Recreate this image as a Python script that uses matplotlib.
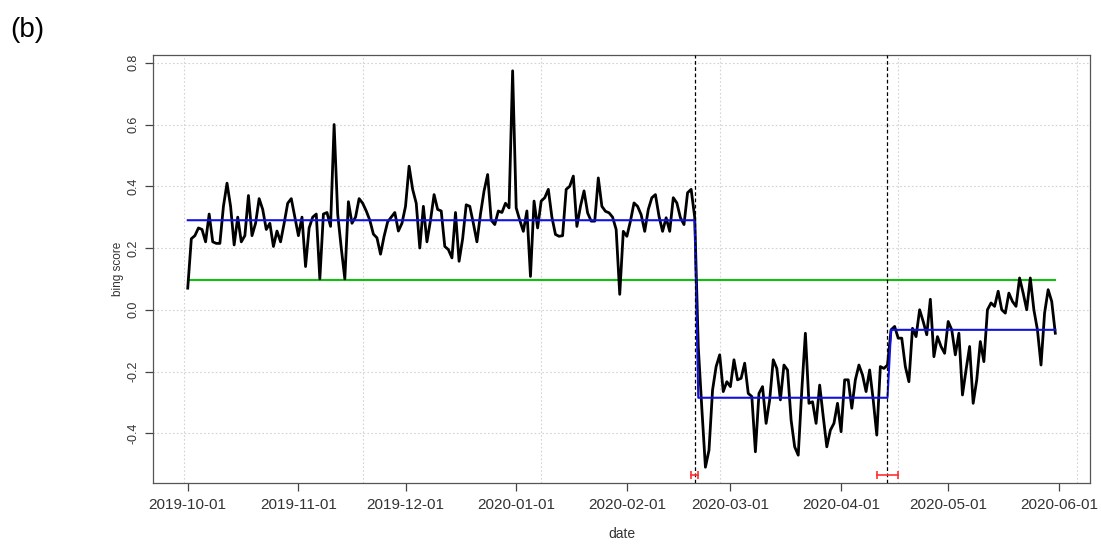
import matplotlib
matplotlib.use("Agg")
import matplotlib.pyplot as plt
import matplotlib.dates as mdates
import numpy as np
import pandas as pd

plt.rcParams['font.family'] = ['Liberation Sans', 'DejaVu Sans']

# daily bing score, 2019-10-01 .. 2020-05-31
start_date = "2019-10-01"
bing_score = [
    0.07, 0.23, 0.24, 0.265, 0.26, 0.22, 0.31, 0.22, 0.215, 0.215,
    0.335, 0.41, 0.335, 0.21, 0.30, 0.22, 0.24, 0.37, 0.24, 0.28,
    0.36, 0.325, 0.26, 0.28, 0.205, 0.255, 0.22, 0.28, 0.345, 0.36,
    0.30, 0.24, 0.30, 0.14, 0.265, 0.30, 0.31, 0.10, 0.31, 0.315,
    0.27, 0.60, 0.31, 0.20, 0.10, 0.35, 0.28, 0.30, 0.36, 0.345,
    0.32, 0.29, 0.245, 0.233, 0.18, 0.238, 0.285, 0.30, 0.315, 0.255,
    0.28, 0.335, 0.465, 0.39, 0.345, 0.20, 0.335, 0.22, 0.29, 0.373,
    0.325, 0.32, 0.205, 0.195, 0.168, 0.315, 0.157, 0.23, 0.34, 0.335,
    0.28, 0.22, 0.31, 0.385, 0.438, 0.29, 0.276, 0.32, 0.315, 0.345,
    0.33, 0.774, 0.33, 0.29, 0.254, 0.32, 0.108, 0.352, 0.265, 0.352,
    0.363, 0.39, 0.30, 0.244, 0.238, 0.24, 0.39, 0.40, 0.433, 0.27,
    0.335, 0.385, 0.314, 0.287, 0.287, 0.427, 0.335, 0.319, 0.314, 0.30,
    0.26, 0.05, 0.254, 0.238, 0.287, 0.346, 0.335, 0.308, 0.254, 0.325,
    0.363, 0.373, 0.303, 0.254, 0.298, 0.254, 0.363, 0.346, 0.298, 0.276,
    0.379, 0.39, 0.30, -0.12, -0.32, -0.51, -0.455, -0.26, -0.184, -0.146,
    -0.265, -0.233, -0.249, -0.162, -0.227, -0.222, -0.173, -0.271, -0.281, -0.46,
    -0.271, -0.249, -0.368, -0.292, -0.162, -0.19, -0.292, -0.179, -0.195, -0.357,
    -0.444, -0.471, -0.26, -0.076, -0.303, -0.298, -0.368, -0.244, -0.346, -0.444,
    -0.39, -0.368, -0.303, -0.395, -0.227, -0.227, -0.319, -0.227, -0.179, -0.211,
    -0.265, -0.195, -0.292, -0.406, -0.184, -0.19, -0.179, -0.065, -0.054, -0.092,
    -0.092, -0.184, -0.233, -0.060, -0.087, 0.0, -0.038, -0.081, 0.034, -0.152,
    -0.087, -0.119, -0.141, -0.038, -0.065, -0.146, -0.076, -0.276, -0.195, -0.119,
    -0.303, -0.227, -0.103, -0.168, 0.0, 0.022, 0.011, 0.06, 0.0, -0.011,
    0.054, 0.027, 0.011, 0.103, 0.054, 0.0, 0.103, 0.0, -0.065, -0.179,
    -0.011, 0.065, 0.027, -0.076,
]

# breakpoints and their confidence intervals
break_dates = ["2020-02-20", "2020-04-14"]
ci_lower = ["2020-02-19", "2020-04-11"]
ci_upper = ["2020-02-21", "2020-04-17"]
segment_means = [0.29, -0.285, -0.065]
overall_mean = 0.095

month_ticks = pd.date_range("2019-10-01", "2020-06-01", freq="MS")
y_ticks = [-0.4, -0.2, 0.0, 0.2, 0.4, 0.6, 0.8]

dates = pd.date_range(start_date, periods=len(bing_score), freq="D")
bp = pd.to_datetime(break_dates)
seg_id = np.searchsorted(bp.values, dates.values, side="left")
fitted = np.array(segment_means)[seg_id]

fig = plt.figure(figsize=(11.01, 5.44), dpi=100)
ax = fig.add_axes([0.139, 0.112, 0.851, 0.787])

# R-style 4% padding
x0, x1 = mdates.date2num(dates[0]), mdates.date2num(dates[-1])
xpad = (x1 - x0) * 0.04
ax.set_xlim(x0 - xpad, x1 + xpad)
ymin, ymax = min(bing_score), max(bing_score)
ypad = (ymax - ymin) * 0.04
ylo, yhi = ymin - ypad, ymax + ypad
ax.set_ylim(ylo, yhi)

# grid (R grid(): obs index multiples of 50)
grid_dates = [dates[0] + pd.Timedelta(days=k * 50 - 1) for k in range(6)]
for g in grid_dates:
    ax.axvline(g, color='#d3d3d3', ls=(0, (1.5, 2)), lw=0.8, zorder=0)
for yv in y_ticks:
    ax.axhline(yv, color='#d3d3d3', ls=(0, (1.5, 2)), lw=0.8, zorder=0)

ax.plot(dates, bing_score, color='black', lw=2, zorder=3)
ax.plot(dates, fitted, color='#1010e0', lw=1.5, zorder=4)
ax.plot(dates[[0, -1]], [overall_mean, overall_mean], color='#10c010', lw=1.5, zorder=2)

for b in bp:
    ax.axvline(b, color='black', ls=(0, (3, 2)), lw=0.9, zorder=5)

y_ci = ylo + (yhi - ylo) / 1.08 * 0.02
for lo, hi in zip(pd.to_datetime(ci_lower), pd.to_datetime(ci_upper)):
    ax.plot([lo, hi], [y_ci, y_ci], color='#ff3030', lw=1.2, marker='|',
            markersize=6, markeredgewidth=1.2, zorder=6)

ax.set_xticks(month_ticks)
ax.xaxis.set_major_formatter(mdates.DateFormatter('%Y-%m-%d'))
ax.set_yticks(y_ticks)
ax.set_yticklabels(['%.1f' % v for v in y_ticks], rotation=90, va='center')
ax.tick_params(axis='x', labelsize=11, length=5.5, width=0.9, color='#444444',
               labelcolor='#333333', pad=5)
ax.tick_params(axis='y', labelsize=9, length=5.5, width=0.9, color='#444444',
               labelcolor='#333333', pad=4)
for s in ax.spines.values():
    s.set_color('#555555')
    s.set_linewidth(0.9)

ax.set_xlabel('date', fontsize=10, color='#333333', labelpad=11)
ax.set_ylabel('bing score', fontsize=8.5, color='#333333', labelpad=3)
fig.text(0.009, 0.945, '(b)', fontsize=20, va='center')

fig.savefig('out.png', dpi=100)
